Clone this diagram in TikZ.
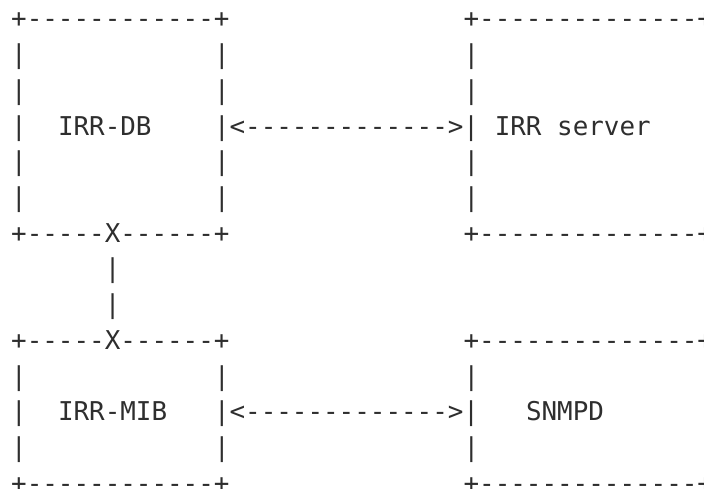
\documentclass[tikz,border=0pt]{standalone}
\usepackage{fontspec}
\newfontfamily\asciimono{DejaVu Sans Mono}
\definecolor{ink}{HTML}{2E2E2E}
\tikzset{asc/.style={anchor=base west, inner sep=0pt, outer sep=0pt, text=ink, font=\asciimono\fontsize{25.9}{35.7}\selectfont}}
\begin{document}
\begin{tikzpicture}
\useasboundingbox (0pt,0pt) rectangle (704pt,-489pt);
\clip (0pt,0pt) rectangle (704pt,-489pt);
\begin{scope}[shift={(11.2pt,-28pt)}, x=15.6pt, y=-35.7pt]
% upper boxes
\node[asc] (dbtop) at (0,0) {+------------+};
\node[asc] (srvtop) at (29,0) {+--------------+};
\foreach \r in {1,2,4,5} {
  \node[asc] (dbl\r) at (0,\r) {|};
  \node[asc] (dbr\r) at (13,\r) {|};
  \node[asc] (srvl\r) at (29,\r) {|};
  \node[asc] (srvr\r) at (44,\r) {|};
}
\node[asc] (dbl3) at (0,3) {|};
\node[asc] (db) at (3,3) {IRR-DB};
\node[asc] (arrow1) at (13,3) {|<------------->|};
\node[asc] (srv) at (31,3) {IRR server};
\node[asc] (srvr3) at (44,3) {|};
\node[asc] (dbbot) at (0,6) {+-----X------+};
\node[asc] (srvbot) at (29,6) {+--------------+};
% vertical link
\node[asc] (link1) at (6,7) {|};
\node[asc] (link2) at (6,8) {|};
% lower boxes
\node[asc] (mibtop) at (0,9) {+-----X------+};
\node[asc] (snmptop) at (29,9) {+--------------+};
\foreach \r in {10,12} {
  \node[asc] (mibl\r) at (0,\r) {|};
  \node[asc] (mibr\r) at (13,\r) {|};
  \node[asc] (snmpl\r) at (29,\r) {|};
  \node[asc] (snmpr\r) at (44,\r) {|};
}
\node[asc] (mibl11) at (0,11) {|};
\node[asc] (mib) at (3,11) {IRR-MIB};
\node[asc] (arrow2) at (13,11) {|<------------->|};
\node[asc] (snmp) at (33,11) {SNMPD};
\node[asc] (snmpr11) at (44,11) {|};
\node[asc] (mibbot) at (0,13) {+------------+};
\node[asc] (snmpbot) at (29,13) {+--------------+};
\end{scope}
\end{tikzpicture}
\end{document}
